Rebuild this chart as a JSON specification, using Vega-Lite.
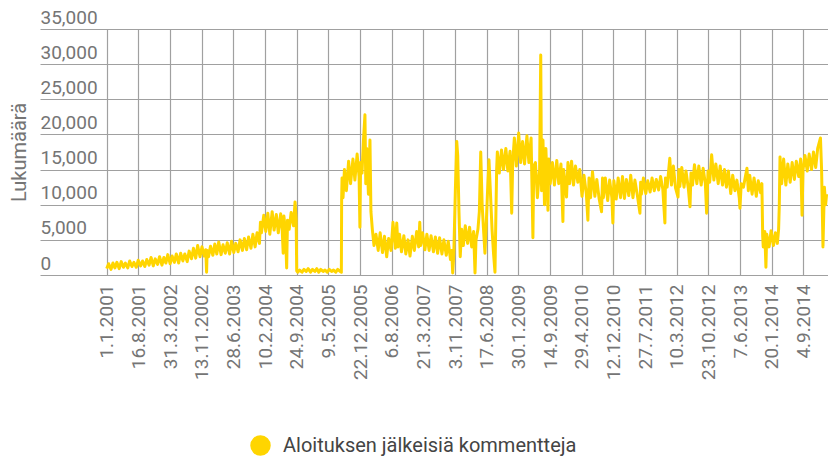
{
  "$schema": "https://vega.github.io/schema/vega-lite/v6.json",
  "width": 788,
  "height": 246,
  "autosize": {"type": "none"},
  "padding": {"left": 40, "top": 29, "right": 0, "bottom": 187},
  "config": {
    "view": {"stroke": null},
    "font": "Roboto"
  },
  "data": {
    "values": [
      {"d":"2001-01-01","v":900},{"d":"2001-01-15","v":1600},{"d":"2001-02-01","v":800},{"d":"2001-02-15","v":1700},{"d":"2001-03-01","v":1000},{"d":"2001-03-15","v":1800},{"d":"2001-04-01","v":900},{"d":"2001-04-15","v":1900},{"d":"2001-05-01","v":1100},{"d":"2001-05-15","v":1700},{"d":"2001-06-01","v":1000},{"d":"2001-06-15","v":2000},{"d":"2001-07-01","v":1200},{"d":"2001-07-15","v":1800},{"d":"2001-08-01","v":1100},{"d":"2001-08-15","v":2100},{"d":"2001-09-01","v":1300},{"d":"2001-09-15","v":2000},{"d":"2001-10-01","v":1200},{"d":"2001-10-15","v":2200},{"d":"2001-11-01","v":1400},{"d":"2001-11-15","v":2500},{"d":"2001-12-01","v":1300},{"d":"2001-12-15","v":2300},
      {"d":"2002-01-01","v":1500},{"d":"2002-01-15","v":2600},{"d":"2002-02-01","v":1400},{"d":"2002-02-15","v":2500},{"d":"2002-03-01","v":1700},{"d":"2002-03-15","v":2900},{"d":"2002-04-01","v":1600},{"d":"2002-04-15","v":2700},{"d":"2002-05-01","v":1800},{"d":"2002-05-15","v":3000},{"d":"2002-06-01","v":1700},{"d":"2002-06-15","v":3100},{"d":"2002-07-01","v":2000},{"d":"2002-07-15","v":3000},{"d":"2002-08-01","v":1900},{"d":"2002-08-15","v":3400},{"d":"2002-09-01","v":2300},{"d":"2002-09-15","v":3800},{"d":"2002-10-01","v":2400},{"d":"2002-10-15","v":4200},{"d":"2002-11-01","v":2600},{"d":"2002-11-15","v":4000},{"d":"2002-12-01","v":2700},{"d":"2002-12-12","v":3600},{"d":"2002-12-18","v":400},{"d":"2002-12-22","v":3500},
      {"d":"2003-01-01","v":2600},{"d":"2003-01-15","v":4100},{"d":"2003-02-01","v":2800},{"d":"2003-02-15","v":4400},{"d":"2003-03-01","v":3000},{"d":"2003-03-15","v":4700},{"d":"2003-04-01","v":2900},{"d":"2003-04-15","v":4300},{"d":"2003-05-01","v":3100},{"d":"2003-05-15","v":4600},{"d":"2003-06-01","v":3000},{"d":"2003-06-15","v":4800},{"d":"2003-07-01","v":3200},{"d":"2003-07-15","v":4500},{"d":"2003-08-01","v":3300},{"d":"2003-08-15","v":5000},{"d":"2003-09-01","v":3500},{"d":"2003-09-15","v":5200},{"d":"2003-10-01","v":3600},{"d":"2003-10-15","v":5400},{"d":"2003-11-01","v":3800},{"d":"2003-11-15","v":5800},{"d":"2003-12-01","v":4000},{"d":"2003-12-15","v":6000},
      {"d":"2004-01-01","v":4500},{"d":"2004-01-08","v":7500},{"d":"2004-01-15","v":6000},{"d":"2004-02-01","v":8500},{"d":"2004-02-15","v":6200},{"d":"2004-03-01","v":8800},{"d":"2004-03-15","v":5800},{"d":"2004-04-01","v":9000},{"d":"2004-04-15","v":6400},{"d":"2004-05-01","v":8600},{"d":"2004-05-15","v":6000},{"d":"2004-06-01","v":8700},{"d":"2004-06-12","v":6500},{"d":"2004-06-19","v":3100},{"d":"2004-06-24","v":8400},{"d":"2004-07-05","v":6300},{"d":"2004-07-14","v":1000},{"d":"2004-07-20","v":7800},{"d":"2004-08-01","v":6500},{"d":"2004-08-15","v":8900},{"d":"2004-09-01","v":7000},{"d":"2004-09-12","v":10400},{"d":"2004-09-20","v":8000},{"d":"2004-09-24","v":600},{"d":"2004-10-01","v":400},
      {"d":"2004-10-15","v":700},{"d":"2004-11-01","v":400},{"d":"2004-11-15","v":800},{"d":"2004-12-01","v":500},{"d":"2004-12-15","v":900},{"d":"2005-01-01","v":400},{"d":"2005-01-15","v":800},{"d":"2005-02-01","v":500},{"d":"2005-02-15","v":900},{"d":"2005-03-01","v":400},{"d":"2005-03-15","v":800},{"d":"2005-04-01","v":500},{"d":"2005-04-15","v":700},{"d":"2005-05-01","v":400},{"d":"2005-05-15","v":800},{"d":"2005-06-01","v":500},{"d":"2005-06-15","v":700},{"d":"2005-07-01","v":400},{"d":"2005-07-15","v":800},{"d":"2005-08-01","v":500},{"d":"2005-08-10","v":400},
      {"d":"2005-08-12","v":10700},{"d":"2005-08-15","v":13800},{"d":"2005-08-22","v":11000},{"d":"2005-09-01","v":15000},{"d":"2005-09-15","v":12000},{"d":"2005-10-01","v":16200},{"d":"2005-10-15","v":13000},{"d":"2005-11-01","v":16500},{"d":"2005-11-15","v":13500},{"d":"2005-12-01","v":17200},{"d":"2005-12-15","v":14000},{"d":"2005-12-21","v":6800},{"d":"2005-12-26","v":16000},{"d":"2006-01-05","v":14500},{"d":"2006-01-15","v":19000},{"d":"2006-01-26","v":22800},{"d":"2006-02-01","v":13000},{"d":"2006-02-08","v":18000},{"d":"2006-02-20","v":11500},{"d":"2006-03-03","v":19200},{"d":"2006-03-10","v":9000},{"d":"2006-03-20","v":6500},{"d":"2006-04-01","v":4200},
      {"d":"2006-04-15","v":5800},{"d":"2006-05-01","v":3500},{"d":"2006-05-15","v":6000},{"d":"2006-06-01","v":3200},{"d":"2006-06-15","v":5500},{"d":"2006-07-01","v":2600},{"d":"2006-07-15","v":5200},{"d":"2006-08-01","v":3500},{"d":"2006-08-15","v":7500},{"d":"2006-09-01","v":3800},{"d":"2006-09-11","v":7400},{"d":"2006-09-20","v":4000},{"d":"2006-10-01","v":5800},{"d":"2006-10-15","v":3300},{"d":"2006-11-01","v":5600},{"d":"2006-11-15","v":3000},{"d":"2006-12-01","v":5000},{"d":"2006-12-15","v":2700},
      {"d":"2007-01-01","v":5500},{"d":"2007-01-15","v":3500},{"d":"2007-02-01","v":6200},{"d":"2007-02-15","v":4000},{"d":"2007-02-23","v":7500},{"d":"2007-03-01","v":4200},{"d":"2007-03-15","v":6000},{"d":"2007-04-01","v":3600},{"d":"2007-04-15","v":5800},{"d":"2007-05-01","v":3500},{"d":"2007-05-15","v":5600},{"d":"2007-06-01","v":3300},{"d":"2007-06-15","v":5400},{"d":"2007-07-01","v":3100},{"d":"2007-07-15","v":5300},{"d":"2007-08-01","v":3000},{"d":"2007-08-15","v":5000},{"d":"2007-09-01","v":2800},{"d":"2007-09-15","v":4800},{"d":"2007-10-01","v":2200},{"d":"2007-10-10","v":3500},{"d":"2007-10-17","v":300},
      {"d":"2007-10-25","v":3000},{"d":"2007-11-05","v":12000},{"d":"2007-11-15","v":19000},{"d":"2007-11-22","v":17000},{"d":"2007-12-01","v":9000},{"d":"2007-12-10","v":2600},{"d":"2007-12-20","v":6500},{"d":"2008-01-01","v":4200},{"d":"2008-01-15","v":7000},{"d":"2008-02-01","v":4500},{"d":"2008-02-15","v":6800},{"d":"2008-03-01","v":4000},{"d":"2008-03-15","v":6200},{"d":"2008-03-25","v":300},{"d":"2008-04-01","v":5000},{"d":"2008-04-15","v":6500},{"d":"2008-04-25","v":9000},{"d":"2008-05-05","v":17500},{"d":"2008-05-15","v":10000},{"d":"2008-05-25","v":6500},{"d":"2008-06-04","v":3100},{"d":"2008-06-15","v":8000},{"d":"2008-06-25","v":13000},{"d":"2008-07-03","v":16400},{"d":"2008-07-15","v":11000},{"d":"2008-07-25","v":6500},{"d":"2008-08-05","v":3000},{"d":"2008-08-15","v":400},{"d":"2008-08-27","v":15000},
      {"d":"2008-09-01","v":17500},{"d":"2008-09-15","v":14500},{"d":"2008-10-01","v":17800},{"d":"2008-10-15","v":15000},{"d":"2008-11-01","v":18000},{"d":"2008-11-15","v":14800},{"d":"2008-12-01","v":17600},{"d":"2008-12-13","v":8800},{"d":"2008-12-20","v":16000},{"d":"2009-01-01","v":19500},{"d":"2009-01-15","v":15500},{"d":"2009-02-01","v":20200},{"d":"2009-02-15","v":16000},{"d":"2009-03-01","v":19000},{"d":"2009-03-15","v":15800},{"d":"2009-04-01","v":19800},{"d":"2009-04-15","v":16000},{"d":"2009-05-01","v":19500},{"d":"2009-05-14","v":5300},{"d":"2009-05-20","v":15500},{"d":"2009-06-01","v":16000},{"d":"2009-06-15","v":11000},{"d":"2009-07-01","v":15000},{"d":"2009-07-09","v":31300},{"d":"2009-07-15","v":12000},{"d":"2009-07-25","v":19200},{"d":"2009-08-05","v":10000},{"d":"2009-08-15","v":18000},{"d":"2009-08-30","v":9200},{"d":"2009-09-05","v":16500},
      {"d":"2009-09-15","v":13000},{"d":"2009-10-01","v":16000},{"d":"2009-10-15","v":12800},{"d":"2009-11-01","v":16300},{"d":"2009-11-15","v":13000},{"d":"2009-12-01","v":15800},{"d":"2009-12-15","v":7600},{"d":"2009-12-20","v":15000},{"d":"2010-01-01","v":12800},{"d":"2010-01-10","v":11100},{"d":"2010-01-20","v":16000},{"d":"2010-02-01","v":13000},{"d":"2010-02-15","v":16200},{"d":"2010-03-01","v":12800},{"d":"2010-03-15","v":15500},{"d":"2010-04-01","v":13200},{"d":"2010-04-15","v":15000},
      {"d":"2010-05-01","v":11200},{"d":"2010-05-15","v":14200},{"d":"2010-06-01","v":11500},{"d":"2010-06-12","v":7800},{"d":"2010-06-20","v":13800},{"d":"2010-07-01","v":11000},{"d":"2010-07-15","v":14700},{"d":"2010-08-01","v":11200},{"d":"2010-08-15","v":13600},{"d":"2010-09-01","v":10800},{"d":"2010-09-18","v":9000},{"d":"2010-09-25","v":13800},{"d":"2010-10-01","v":11000},{"d":"2010-10-15","v":13800},{"d":"2010-11-01","v":10600},{"d":"2010-11-15","v":13500},{"d":"2010-12-01","v":11000},{"d":"2010-12-08","v":7400},{"d":"2010-12-15","v":13400},
      {"d":"2011-01-01","v":10800},{"d":"2011-01-15","v":13800},{"d":"2011-02-01","v":11000},{"d":"2011-02-15","v":14000},{"d":"2011-03-01","v":10900},{"d":"2011-03-15","v":13600},{"d":"2011-04-01","v":11300},{"d":"2011-04-15","v":14200},{"d":"2011-05-01","v":11000},{"d":"2011-05-15","v":13500},{"d":"2011-06-01","v":11400},{"d":"2011-06-20","v":8800},{"d":"2011-06-25","v":13200},{"d":"2011-07-01","v":11500},{"d":"2011-07-15","v":13800},{"d":"2011-08-01","v":11600},{"d":"2011-08-15","v":13400},{"d":"2011-09-01","v":11800},{"d":"2011-09-15","v":13800},{"d":"2011-10-01","v":12000},{"d":"2011-10-15","v":13600},{"d":"2011-11-01","v":12100},{"d":"2011-11-15","v":14000},{"d":"2011-12-01","v":12200},{"d":"2011-12-16","v":7400},{"d":"2011-12-20","v":13800},
      {"d":"2012-01-01","v":12500},{"d":"2012-01-20","v":16600},{"d":"2012-02-01","v":12800},{"d":"2012-02-15","v":15500},{"d":"2012-03-01","v":12400},{"d":"2012-03-19","v":11100},{"d":"2012-03-25","v":15000},{"d":"2012-04-01","v":12600},{"d":"2012-04-15","v":15300},{"d":"2012-05-01","v":12500},{"d":"2012-05-15","v":14800},{"d":"2012-06-01","v":12300},{"d":"2012-06-13","v":9700},{"d":"2012-06-20","v":14500},{"d":"2012-07-01","v":12800},{"d":"2012-07-15","v":15700},{"d":"2012-08-01","v":13000},{"d":"2012-08-15","v":15500},{"d":"2012-09-01","v":12800},{"d":"2012-09-15","v":15200},{"d":"2012-10-01","v":13000},{"d":"2012-10-10","v":8800},{"d":"2012-10-20","v":14800},{"d":"2012-11-01","v":13200},{"d":"2012-11-15","v":17100},{"d":"2012-12-01","v":13500},{"d":"2012-12-15","v":15800},
      {"d":"2013-01-01","v":13000},{"d":"2013-01-15","v":15500},{"d":"2013-02-01","v":12800},{"d":"2013-02-15","v":15000},{"d":"2013-03-01","v":12500},{"d":"2013-03-15","v":14800},{"d":"2013-04-01","v":11600},{"d":"2013-04-15","v":14200},{"d":"2013-05-01","v":12000},{"d":"2013-05-15","v":13500},{"d":"2013-06-01","v":11000},{"d":"2013-06-06","v":9500},{"d":"2013-06-15","v":13000},{"d":"2013-07-01","v":12500},{"d":"2013-07-26","v":15200},{"d":"2013-08-05","v":12000},{"d":"2013-08-15","v":14200},{"d":"2013-09-01","v":11500},{"d":"2013-09-15","v":13800},{"d":"2013-10-01","v":11200},{"d":"2013-10-15","v":13400},{"d":"2013-11-01","v":11700},{"d":"2013-11-10","v":13000},{"d":"2013-11-16","v":5500},
      {"d":"2013-11-20","v":4000},{"d":"2013-12-01","v":6200},{"d":"2013-12-09","v":1100},{"d":"2013-12-15","v":5800},{"d":"2014-01-01","v":4000},{"d":"2014-01-15","v":6300},{"d":"2014-02-01","v":4200},{"d":"2014-02-15","v":6000},{"d":"2014-03-01","v":4500},{"d":"2014-03-10","v":6500},{"d":"2014-03-15","v":10000},{"d":"2014-03-20","v":16800},
      {"d":"2014-04-01","v":13000},{"d":"2014-04-15","v":16500},{"d":"2014-05-01","v":12800},{"d":"2014-05-15","v":15800},{"d":"2014-06-01","v":13200},{"d":"2014-06-15","v":16000},{"d":"2014-07-01","v":13600},{"d":"2014-07-15","v":16200},{"d":"2014-08-01","v":14000},{"d":"2014-08-15","v":16500},{"d":"2014-08-25","v":8500},{"d":"2014-09-01","v":15000},{"d":"2014-09-15","v":17000},{"d":"2014-10-01","v":14800},{"d":"2014-10-15","v":17200},{"d":"2014-11-01","v":15000},{"d":"2014-11-15","v":17500},{"d":"2014-12-01","v":15300},{"d":"2014-12-15","v":18000},{"d":"2015-01-04","v":19500},{"d":"2015-01-12","v":15000},{"d":"2015-01-22","v":4000},{"d":"2015-02-01","v":12500},{"d":"2015-02-10","v":10000},{"d":"2015-02-17","v":11500}
    ]
  },
  "mark": {"type": "line", "strokeWidth": 3, "strokeJoin": "round", "clip": true},
  "encoding": {
    "x": {
      "field": "d",
      "type": "temporal",
      "scale": {
        "type": "utc",
        "domain": [
          {"year": 1999, "month": 9, "date": 11, "utc": true},
          {"year": 2015, "month": 2, "date": 27, "utc": true}
        ]
      },
      "axis": {
        "title": null,
        "values": [
          {"year":2001,"month":1,"date":1,"utc":true},
          {"year":2001,"month":8,"date":16,"utc":true},
          {"year":2002,"month":3,"date":31,"utc":true},
          {"year":2002,"month":11,"date":13,"utc":true},
          {"year":2003,"month":6,"date":28,"utc":true},
          {"year":2004,"month":2,"date":10,"utc":true},
          {"year":2004,"month":9,"date":24,"utc":true},
          {"year":2005,"month":5,"date":9,"utc":true},
          {"year":2005,"month":12,"date":22,"utc":true},
          {"year":2006,"month":8,"date":6,"utc":true},
          {"year":2007,"month":3,"date":21,"utc":true},
          {"year":2007,"month":11,"date":3,"utc":true},
          {"year":2008,"month":6,"date":17,"utc":true},
          {"year":2009,"month":1,"date":30,"utc":true},
          {"year":2009,"month":9,"date":14,"utc":true},
          {"year":2010,"month":4,"date":29,"utc":true},
          {"year":2010,"month":12,"date":12,"utc":true},
          {"year":2011,"month":7,"date":27,"utc":true},
          {"year":2012,"month":3,"date":10,"utc":true},
          {"year":2012,"month":10,"date":23,"utc":true},
          {"year":2013,"month":6,"date":7,"utc":true},
          {"year":2014,"month":1,"date":20,"utc":true},
          {"year":2014,"month":9,"date":4,"utc":true}
        ],
        "labelExpr": "utcFormat(datum.value, '%-d.%-m.%Y')",
        "labelAngle": 270,
        "labelAlign": "right",
        "labelBaseline": "middle",
        "labelPadding": 9,
        "labelFlush": false,
        "labelOverlap": false,
        "labelBound": false,
        "labelFont": "Roboto",
        "labelFontSize": 19,
        "labelColor": "#757575",
        "ticks": false,
        "tickSize": 0,
        "domain": false,
        "grid": true,
        "gridColor": "#a0a0a0",
        "gridWidth": 1.2
      }
    },
    "y": {
      "field": "v",
      "type": "quantitative",
      "scale": {"domain": [0, 35000], "nice": false, "zero": true},
      "axis": {
        "values": [0, 5000, 10000, 15000, 20000, 25000, 30000, 35000],
        "format": ",d",
        "title": "Lukumäärä",
        "titleFont": "Roboto",
        "titleFontSize": 20,
        "titleFontWeight": "normal",
        "titleColor": "#757575",
        "titleAngle": 270,
        "titleX": -15,
        "titleY": 123,
        "titleAlign": "center",
        "titleBaseline": "alphabetic",
        "labelAlign": "left",
        "labelBaseline": "alphabetic",
        "labelPadding": 0,
        "labelOffset": -6,
        "labelFont": "Roboto",
        "labelFontSize": 19,
        "labelColor": "#757575",
        "labelFlush": false,
        "labelOverlap": false,
        "labelBound": false,
        "ticks": false,
        "tickSize": 0,
        "domain": false,
        "grid": true,
        "gridColor": "#a0a0a0",
        "gridWidth": 1.2
      }
    },
    "color": {
      "datum": "Aloituksen jälkeisiä kommentteja",
      "scale": {"range": ["#FFD500"]},
      "legend": {
        "title": null,
        "orient": "none",
        "legendX": 210,
        "legendY": 406,
        "padding": 0,
        "symbolType": "circle",
        "symbolSize": 420,
        "symbolStrokeWidth": 0,
        "labelOffset": 12,
        "labelLimit": 0,
        "labelFont": "Roboto",
        "labelFontSize": 20,
        "labelColor": "#444444",
        "encode": {
          "symbols": {
            "update": {
              "fill": {"value": "#FFD500"},
              "stroke": {"value": "#FFD500"},
              "strokeWidth": {"value": 0},
              "opacity": {"value": 1}
            }
          }
        }
      }
    }
  }
}
